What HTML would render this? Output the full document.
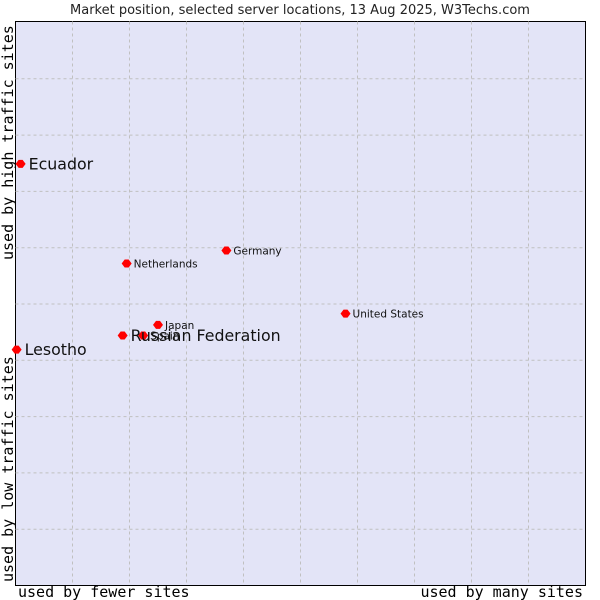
<!DOCTYPE html>
<html><head><meta charset="utf-8"><style>
html,body{margin:0;padding:0;background:#fff;}
svg{display:block;font-family:"DejaVu Sans","Liberation Sans",sans-serif;}
</style></head><body>
<svg id="chart" width="600" height="600">
<text x="300" y="14" text-anchor="middle" font-size="13" fill="#222">Market position, selected server locations, 13 Aug 2025, W3Techs.com</text>
<rect x="15.5" y="21.5" width="570" height="564" fill="#e3e4f7" stroke="#000" stroke-width="1"/>
<g id="grid"></g>
<g id="points"></g>
<text x="18" y="597" font-family="'DejaVu Sans Mono','Liberation Mono',monospace" font-size="15" fill="#000">used by fewer sites</text>
<text x="583" y="597" text-anchor="end" font-family="'DejaVu Sans Mono','Liberation Mono',monospace" font-size="15" fill="#000">used by many sites</text>
<text transform="translate(13,582) rotate(-90)" font-family="'DejaVu Sans Mono','Liberation Mono',monospace" font-size="15" fill="#000">used by low traffic sites</text>
<text transform="translate(13,260) rotate(-90)" font-family="'DejaVu Sans Mono','Liberation Mono',monospace" font-size="15" fill="#000">used by high traffic sites</text>
</svg>
<script>
const names = ["Ecuador","Lesotho","Spain","Russian Federation","Japan","Netherlands","Germany","United States"];
const xValues = [0.9,0.2,22.4,18.8,25,19.5,37,57.9];
const yValues = [74.9,41.9,44.4,44.4,46.3,57.2,59.5,48.3];
const bigLabel = [true,true,false,true,false,false,false,false];
const NS="http://www.w3.org/2000/svg";
const L=15.5,T=22.5,W=570,H=563;
const sx=v=>L+v/100*W, sy=v=>T+H-v/100*H;
const grid=document.getElementById('grid');
for(let i=1;i<10;i++){
  const a=document.createElementNS(NS,'line');
  
  
  a.setAttribute('x1',sx(i*10));a.setAttribute('x2',sx(i*10));a.setAttribute('y1',T-1);a.setAttribute('y2',T+H);
  a.setAttribute('stroke','#c0c0c0');a.setAttribute('stroke-dasharray','3,3');grid.appendChild(a);
  const b=document.createElementNS(NS,'line');
  
  
  b.setAttribute('y1',sy(i*10));b.setAttribute('y2',sy(i*10));b.setAttribute('x1',L);b.setAttribute('x2',L+W);
  b.setAttribute('stroke','#c0c0c0');b.setAttribute('stroke-dasharray','3,3');grid.appendChild(b);
}
const pts=document.getElementById('points');
names.forEach((n,i)=>{
  const x=sx(xValues[i]),y=sy(yValues[i]);
  const c=document.createElementNS(NS,'path');
  
  
  c.setAttribute('d',`M${x-5},${y} L${x-2},${y-4} L${x+2},${y-4} L${x+5},${y} L${x+2},${y+4} L${x-2},${y+4}Z`);
  c.setAttribute('fill','#ff0000');pts.appendChild(c);
  const t=document.createElementNS(NS,'text');
  
  
  t.setAttribute('x',x+(bigLabel[i]?8:7));
  t.setAttribute('y',y+(bigLabel[i]?5.5:4));
  t.setAttribute('font-size',bigLabel[i]?15.8:10.5);
  t.setAttribute('fill','#111');
  t.textContent=n;pts.appendChild(t);
});
</script>
</body></html>
